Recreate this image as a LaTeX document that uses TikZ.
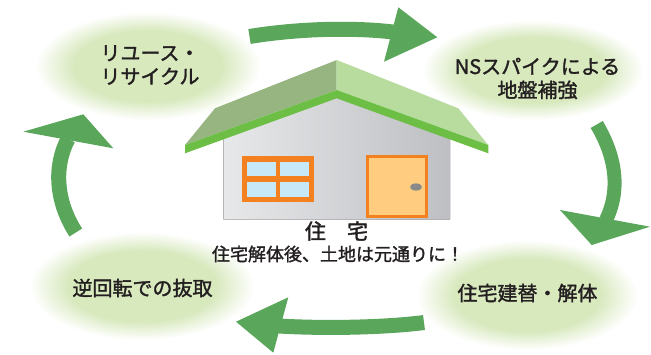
\documentclass[tikz,border=0pt]{standalone}
\usepackage{fontspec}
\setmainfont{Noto Sans CJK JP}[FakeBold=1.6]
\usetikzlibrary{shapes.geometric}

\definecolor{arrowgreen}{RGB}{90,167,92}
\definecolor{ellgreen}{RGB}{216,233,190}
\definecolor{roofdark}{RGB}{151,181,129}
\definecolor{rooflight}{RGB}{183,220,158}
\definecolor{roofedge}{RGB}{108,190,69}
\definecolor{wallA}{RGB}{231,232,234}
\definecolor{wallB}{RGB}{190,191,194}
\definecolor{frameorange}{RGB}{243,129,32}
\definecolor{pane}{RGB}{199,232,247}
\definecolor{doorfill}{RGB}{255,204,128}
\definecolor{knob}{RGB}{137,137,137}
\definecolor{ink}{RGB}{35,31,32}

% pale green bubble that fades to white at its rim
% (the path's bounding box spans the central 50bp of the shading)
\pgfdeclareradialshading{softell}{\pgfpoint{0bp}{0bp}}{color(0bp)=(ellgreen);color(16.5bp)=(ellgreen);color(25bp)=(white);color(50bp)=(white)}

\tikzset{
  bubble/.style={ellipse, draw=none, shading=softell, inner sep=0pt},
  steplabel/.style={text=ink, font=\fontsize{20}{23.5}\selectfont, align=center, inner sep=0pt},
  cyclearrow/.style={draw=arrowgreen, line width=15pt},
  headfill/.style={fill=arrowgreen},
}

\begin{document}
\begin{tikzpicture}[x=1pt, y=-1pt]
\useasboundingbox (0,0) rectangle (651,354);

% --- soft bubbles for the four steps ---
\node[bubble, minimum width=225pt, minimum height=108pt] (e1) at (148,66) {};
\node[bubble, minimum width=221pt, minimum height=100pt] (e2) at (533,70) {};
\node[bubble, minimum width=225pt, minimum height=108pt] (e3) at (142,286) {};
\node[bubble, minimum width=221pt, minimum height=110pt] (e4) at (527,295) {};

\node[steplabel] (t1) at (150,65) {リユース・\\リサイクル};
\node[steplabel] (t2) at (537.5,78.5) {NSスパイクによる\\地盤補強};
\node[steplabel] (t3) at (142.5,288) {逆回転での抜取};
\node[steplabel] (t4) at (527.5,293) {住宅建替・解体};

% --- clockwise cycle arrows ---
\draw[cyclearrow] (249.5,36.5) .. controls (295,29) and (350,27) .. (393,32);
\fill[headfill] (398.3,7.3) -- (437.3,37.3) -- (384,61.7) -- cycle;

\draw[cyclearrow, line width=14pt] (596.7,124.5) .. controls (612,150) and (623,185) .. (606,220);
\fill[headfill] (560,210) -- (650,226.7) -- (591.7,245) -- cycle;

\draw[cyclearrow] (424,322.5) .. controls (390,327) and (330,329) .. (279,326);
\fill[headfill] (288.3,297.3) -- (236,321.7) -- (273.3,352.7) -- cycle;

\draw[cyclearrow] (75.8,232.5) .. controls (58,205) and (52,170) .. (68,139);
\fill[headfill] (23.3,131.7) -- (83.3,114.3) -- (113.3,148.3) -- cycle;

% --- house ---
\fill[left color=wallA, right color=wallB]
  (223.3,219.3) -- (223.3,135) -- (336.7,93) -- (450,135) -- (450,219.3) -- cycle;
\fill[roofdark] (185,145) -- (215,108.3) -- (336.7,60) -- (336.7,90) -- cycle;
\fill[rooflight] (336.7,60) -- (458.3,108.3) -- (488.3,145) -- (336.7,90) -- cycle;
\fill[roofedge] (185,145) -- (336.7,90) -- (488.3,145) -- (488.3,153.3)
  -- (336.7,98.3) -- (185,153.3) -- cycle;

% window
\fill[frameorange] (241.7,156) rectangle (314,201.7);
\fill[pane] (247,161.5) rectangle (275.5,176);
\fill[pane] (280,161.5) rectangle (308.5,176);
\fill[pane] (247,181.5) rectangle (275.5,196.5);
\fill[pane] (280,181.5) rectangle (308.5,196.5);

% door
\draw[frameorange, line width=3pt, fill=doorfill] (367.5,156.8) rectangle (426.8,216.5);
\fill[knob] (416,187) ellipse [x radius=6, y radius=3.6];

\node[text=ink, font=\fontsize{21}{24}\selectfont, inner sep=0pt] (house) at (336.5,231) {住　宅};
\node[text=ink, font=\fontsize{18}{21}\selectfont, inner sep=0pt] (note) at (338,254) {住宅解体後、土地は元通りに！};
\end{tikzpicture}
\end{document}
